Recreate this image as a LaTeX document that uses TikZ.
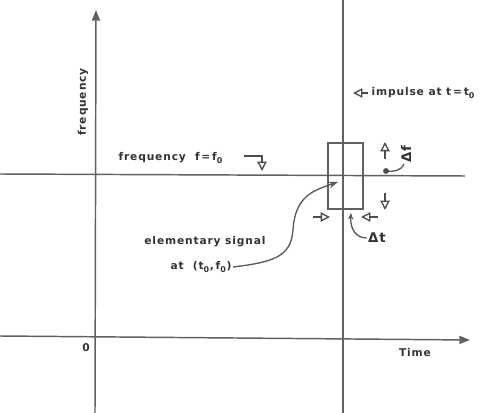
\documentclass[tikz,border=0pt]{standalone}
\usepackage{fontspec}
\setmainfont{DejaVu Sans}[LetterSpace=8]
\usetikzlibrary{arrows.meta}
\begin{document}
\begin{tikzpicture}[x=0.75pt,y=-0.75pt,
  ln/.style={draw=black!62, line width=1.1pt},
  lbl/.style={font=\bfseries\fontsize{8}{9}\selectfont, text=black!80, inner sep=1pt},
  opn/.style={draw=black!70, line width=1pt, -{Triangle[open,length=7pt,width=7pt]}},
  cur/.style={draw=black!65, line width=1pt}]
\useasboundingbox (0,0) rectangle (486,413);
% axes
\coordinate (yb) at (95,413); \coordinate (yt) at (96,10);
\coordinate (xl) at (0,336); \coordinate (xr) at (470,340);
\draw[ln, -{Triangle[length=8pt,width=6pt]}] (yb) -- (yt);
\draw[ln, -{Triangle[length=8pt,width=6pt]}] (xl) -- (xr);
% t0 vertical, f0 horizontal
\coordinate (vt) at (343,0); \coordinate (vb) at (343,413);
\draw[ln] (vt) -- (vb);
\coordinate (hl) at (0,174); \coordinate (hr) at (465,176);
\draw[ln] (hl) -- (hr);
% rectangle
\node[ln, draw, minimum width=35*0.75pt, minimum height=66*0.75pt, inner sep=0pt] (box) at (345.5,176) {};
% labels
\node[lbl, rotate=90] (freq) at (83,102) {frequency};
\node[lbl] (zero) at (86,348) {0};
\node[lbl] (time) at (415,353) {Time};
\node[lbl, anchor=west] (imp) at (370,93) {impulse at t\,=\,t\textsubscript{0}};
\coordinate (impa) at (368,93); \coordinate (impb) at (353,93);
\draw[opn] (impa) -- (impb);
\node[lbl, anchor=west] (ff) at (117,158) {frequency\ \ f\,=\,f\textsubscript{0}};
\coordinate (ffa) at (244,156); \coordinate (ffb) at (262,156); \coordinate (ffc) at (262,171);
\draw[opn] (ffa) -- (ffb) -- (ffc);
% delta f markers
\coordinate (u1) at (385,159); \coordinate (u2) at (385,142);
\draw[opn] (u1) -- (u2);
\coordinate (d1) at (385,193); \coordinate (d2) at (385,210);
\draw[opn] (d1) -- (d2);
\node[lbl, rotate=90, font=\bfseries\fontsize{10}{11}\selectfont] (df) at (406,154) {Δf};
\coordinate (dfdot) at (386,171);
\draw[cur] (404,164) .. controls (401,171) and (393,172) .. (dfdot);
\fill[black!70] (dfdot) circle (2.2pt);
% delta t markers
\coordinate (l1) at (313,217); \coordinate (l2) at (330,217);
\draw[opn] (l1) -- (l2);
\coordinate (r1) at (378,217); \coordinate (r2) at (361,217);
\draw[opn] (r1) -- (r2);
\node[lbl, font=\bfseries\fontsize{10}{11}\selectfont] (dt) at (377,238) {Δt};
\coordinate (dtt) at (351,213);
\draw[cur, -{Stealth[length=5pt,width=4pt]}] (dt.west) .. controls (357,238) and (350,230) .. (dtt);
% elementary signal
\node[lbl] (es) at (205,242) {elementary\ signal};
\node[lbl] (at) at (201,267) {at\ \ (t\textsubscript{0},\,f\textsubscript{0})};
\coordinate (est) at (338,182);
\draw[cur, -{Stealth[length=7pt,width=5pt]}] (at.east) .. controls (275,262) and (291,256) .. (293,230)
  .. controls (295,195) and (315,190) .. (est);
\end{tikzpicture}
\end{document}
